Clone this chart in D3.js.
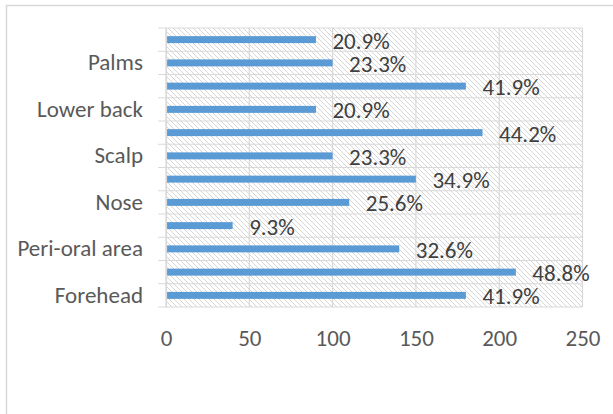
<!DOCTYPE html>
<html>
<head>
<meta charset="utf-8">
<script src="https://cdn.jsdelivr.net/npm/d3@7"></script>
<style>
  html, body { margin: 0; padding: 0; background: #fff; }
  svg { display: block; }
  text { font-family: Carlito, "Open Sans", sans-serif; }
</style>
</head>
<body>
<svg id="chart" width="613" height="414"></svg>
<script>
// Body sites, listed bottom to top
const categories = ["Forehead", "Cheeks", "Peri-oral area", "Chin", "Nose", "Neck",
                    "Scalp", "Chest", "Lower back", "Upper back", "Palms", "Soles"];
// Number of patients reporting each site
const counts = [180, 210, 140, 40, 110, 150, 100, 190, 90, 180, 100, 90];
// Categories whose names are printed on the axis
const shownLabels = ["Forehead", "Peri-oral area", "Nose", "Scalp", "Lower back", "Palms"];
const xTicks = [0, 50, 100, 150, 200, 250];
const respondents = 430;

const FONT = 23;
const data = categories.map((c, i) => ({ cat: c, value: counts[i] }));

const svg = d3.select("#chart");
const plot = { left: 166, right: 582.5, top: 28, bottom: 307 };

const x = d3.scaleLinear().domain([0, 250]).range([plot.left, plot.right]);
const y = d3.scaleBand()
  .domain(categories.slice().reverse())
  .range([plot.top, plot.bottom])
  .paddingInner(0.7)
  .paddingOuter(0.35);
const step = y.step();

// Diagonal hatch fill for the plot area
const defs = svg.append("defs");
const pat = defs.append("pattern")
  .attr("id", "hatch")
  .attr("patternUnits", "userSpaceOnUse")
  .attr("width", 5).attr("height", 5);
pat.append("rect").attr("width", 5).attr("height", 5).attr("fill", "#fff");
pat.append("path")
  .attr("d", "M-1,-1 L6,6 M-1,4 L1,6 M4,-1 L6,1")
  .attr("stroke", "#d6d6d6").attr("stroke-width", 1);

// Outer chart frame
svg.append("rect")
  .attr("x", 6.5).attr("y", 5.5)
  .attr("width", 640).attr("height", 440)
  .attr("fill", "none").attr("stroke", "#d9d9d9").attr("stroke-width", 1.5);

svg.append("rect")
  .attr("x", plot.left).attr("y", plot.top)
  .attr("width", plot.right - plot.left).attr("height", plot.bottom - plot.top)
  .attr("fill", "url(#hatch)");

// Vertical gridlines
svg.append("g")
  .selectAll("line").data(xTicks).join("line")
  .attr("x1", d => x(d)).attr("x2", d => x(d))
  .attr("y1", plot.top).attr("y2", plot.bottom)
  .attr("stroke", "#d9d9d9").attr("stroke-width", 1.2);

// Horizontal row separators with short ticks to the left
const bounds = d3.range(categories.length + 1).map(i => plot.top + i * step);
svg.append("g")
  .selectAll("line").data(bounds).join("line")
  .attr("x1", plot.left - 8).attr("x2", plot.right)
  .attr("y1", d => d).attr("y2", d => d)
  .attr("stroke", "#d9d9d9").attr("stroke-width", 1.2);

// Bars
svg.append("g")
  .selectAll("rect").data(data).join("rect")
  .attr("x", x(0))
  .attr("y", d => y(d.cat))
  .attr("width", d => x(d.value) - x(0))
  .attr("height", y.bandwidth())
  .attr("fill", "#5B9BD5");

// Percentage labels
const pct = d3.format(".1%");
svg.append("g")
  .selectAll("text").data(data).join("text")
  .attr("x", d => x(d.value) + 16.5)
  .attr("y", d => y(d.cat) + y.bandwidth() / 2 + 1)
  .attr("dominant-baseline", "central")
  .attr("font-size", FONT)
  .attr("fill", "#404040")
  .text(d => pct(d.value / respondents));

// Category axis
const yAxis = d3.axisLeft(y)
  .tickSize(0)
  .tickPadding(23)
  .tickFormat(d => shownLabels.includes(d) ? d : "");
const gy = svg.append("g")
  .attr("transform", `translate(${plot.left},0)`)
  .call(yAxis);
gy.select(".domain").attr("stroke", "#d9d9d9").attr("stroke-width", 1.2);
gy.selectAll("text")
  .attr("font-size", FONT)
  .attr("fill", "#595959")
  .attr("font-family", "Carlito, 'Open Sans', sans-serif");

// Value axis
const xAxis = d3.axisBottom(x).tickValues(xTicks).tickSize(0).tickPadding(22.5);
const gx = svg.append("g")
  .attr("transform", `translate(0,${plot.bottom})`)
  .call(xAxis);
gx.select(".domain").remove();
gx.selectAll("text")
  .attr("font-size", FONT)
  .attr("fill", "#595959")
  .attr("font-family", "Carlito, 'Open Sans', sans-serif");
</script>
</body>
</html>
